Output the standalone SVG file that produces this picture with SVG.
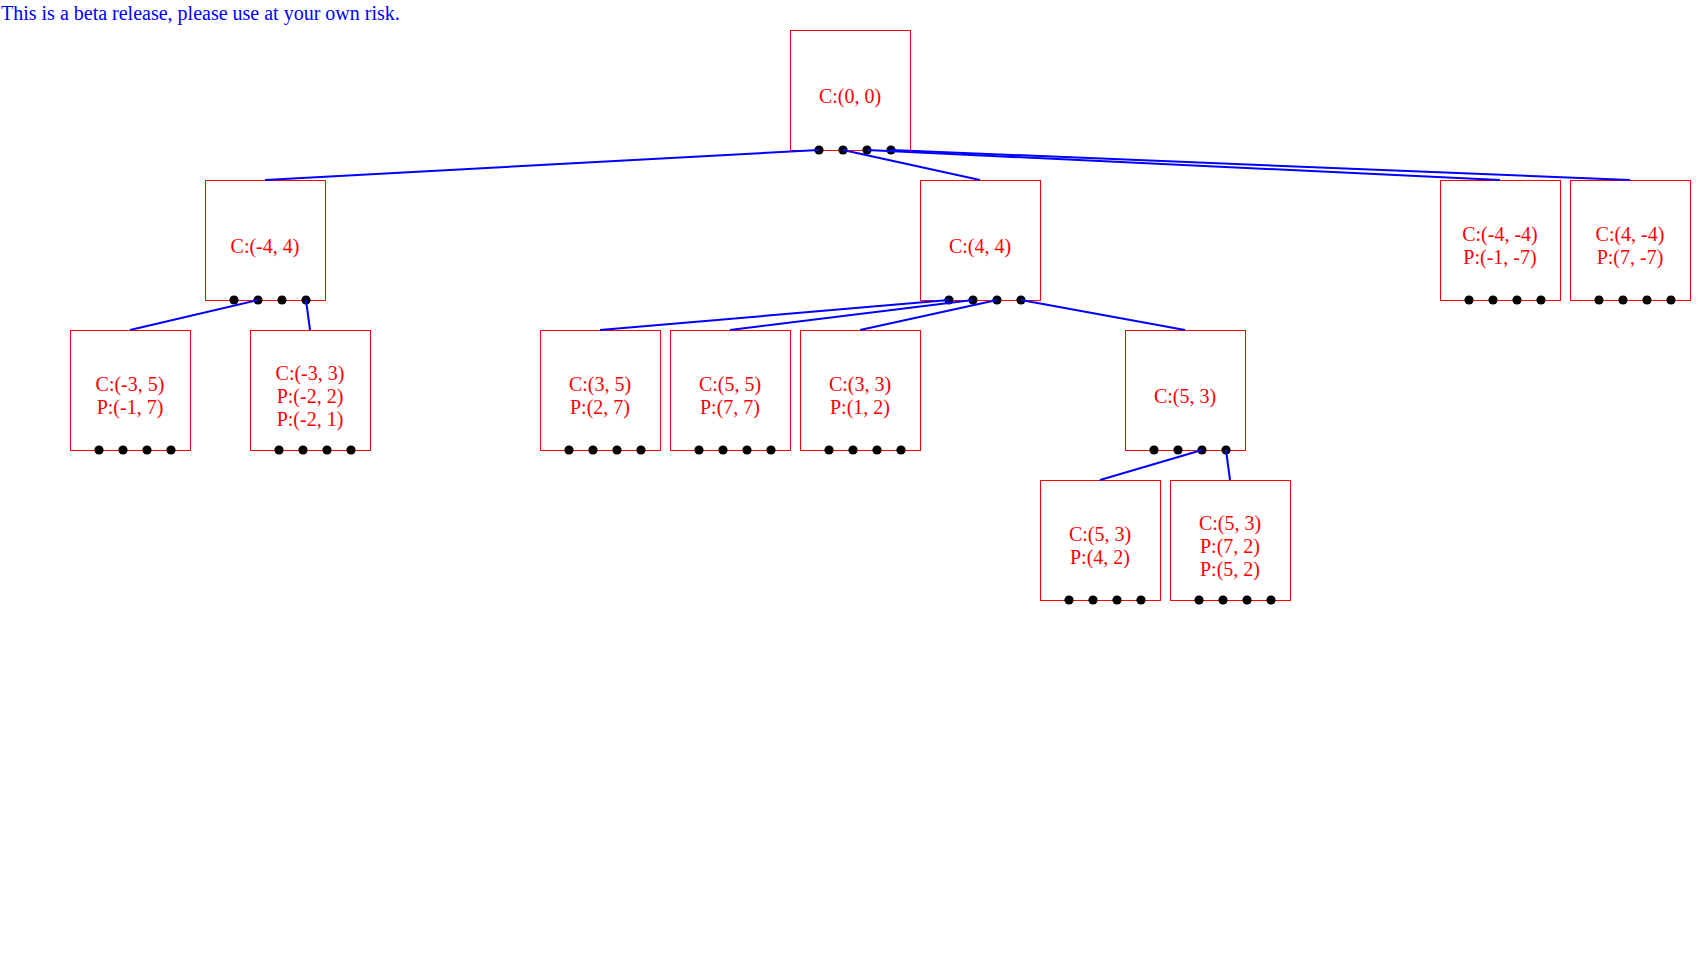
<svg xmlns="http://www.w3.org/2000/svg" width="1700" height="970" viewBox="0 0 1700 970">
<style>
.box{fill:none;stroke:#ff0000;stroke-width:1}
.lbl{font-family:"Liberation Serif","Times New Roman",serif;font-size:20px;fill:#ff0000;text-anchor:middle}
.dot{fill:#000000}
.edge{stroke:#0000ff;stroke-width:2;fill:none}
.title{font-family:"Liberation Serif","Times New Roman",serif;font-size:20px;fill:#0000ff}
</style>
<rect x="0" y="0" width="1700" height="970" fill="#ffffff"/>
<text class="title" x="1" y="20">This is a beta release, please use at your own risk.</text>
<g id="n-root">
<rect class="box" x="790.5" y="30.5" width="120" height="120"/>
<text class="lbl" x="850" y="103">C:(0, 0)</text>
<circle class="dot" cx="819" cy="150" r="4.6"/><circle class="dot" cx="843" cy="150" r="4.6"/><circle class="dot" cx="867" cy="150" r="4.6"/><circle class="dot" cx="891" cy="150" r="4.6"/>
</g>
<g id="n-m4-4">
<rect class="box" x="205.5" y="180.5" width="120" height="120"/>
<text class="lbl" x="265" y="253">C:(-4, 4)</text>
<circle class="dot" cx="234" cy="300" r="4.6"/><circle class="dot" cx="258" cy="300" r="4.6"/><circle class="dot" cx="282" cy="300" r="4.6"/><circle class="dot" cx="306" cy="300" r="4.6"/>
</g>
<g id="n-4-4">
<rect class="box" x="920.5" y="180.5" width="120" height="120"/>
<text class="lbl" x="980" y="253">C:(4, 4)</text>
<circle class="dot" cx="949" cy="300" r="4.6"/><circle class="dot" cx="973" cy="300" r="4.6"/><circle class="dot" cx="997" cy="300" r="4.6"/><circle class="dot" cx="1021" cy="300" r="4.6"/>
</g>
<g id="n-m4-m4">
<rect class="box" x="1440.5" y="180.5" width="120" height="120"/>
<text class="lbl" x="1500" y="240.5">C:(-4, -4)</text>
<text class="lbl" x="1500" y="263.5">P:(-1, -7)</text>
<circle class="dot" cx="1469" cy="300" r="4.6"/><circle class="dot" cx="1493" cy="300" r="4.6"/><circle class="dot" cx="1517" cy="300" r="4.6"/><circle class="dot" cx="1541" cy="300" r="4.6"/>
</g>
<g id="n-4-m4">
<rect class="box" x="1570.5" y="180.5" width="120" height="120"/>
<text class="lbl" x="1630" y="240.5">C:(4, -4)</text>
<text class="lbl" x="1630" y="263.5">P:(7, -7)</text>
<circle class="dot" cx="1599" cy="300" r="4.6"/><circle class="dot" cx="1623" cy="300" r="4.6"/><circle class="dot" cx="1647" cy="300" r="4.6"/><circle class="dot" cx="1671" cy="300" r="4.6"/>
</g>
<g id="n-m3-5">
<rect class="box" x="70.5" y="330.5" width="120" height="120"/>
<text class="lbl" x="130" y="390.5">C:(-3, 5)</text>
<text class="lbl" x="130" y="413.5">P:(-1, 7)</text>
<circle class="dot" cx="99" cy="450" r="4.6"/><circle class="dot" cx="123" cy="450" r="4.6"/><circle class="dot" cx="147" cy="450" r="4.6"/><circle class="dot" cx="171" cy="450" r="4.6"/>
</g>
<g id="n-m3-3">
<rect class="box" x="250.5" y="330.5" width="120" height="120"/>
<text class="lbl" x="310" y="380">C:(-3, 3)</text>
<text class="lbl" x="310" y="403">P:(-2, 2)</text>
<text class="lbl" x="310" y="426">P:(-2, 1)</text>
<circle class="dot" cx="279" cy="450" r="4.6"/><circle class="dot" cx="303" cy="450" r="4.6"/><circle class="dot" cx="327" cy="450" r="4.6"/><circle class="dot" cx="351" cy="450" r="4.6"/>
</g>
<g id="n-3-5">
<rect class="box" x="540.5" y="330.5" width="120" height="120"/>
<text class="lbl" x="600" y="390.5">C:(3, 5)</text>
<text class="lbl" x="600" y="413.5">P:(2, 7)</text>
<circle class="dot" cx="569" cy="450" r="4.6"/><circle class="dot" cx="593" cy="450" r="4.6"/><circle class="dot" cx="617" cy="450" r="4.6"/><circle class="dot" cx="641" cy="450" r="4.6"/>
</g>
<g id="n-5-5">
<rect class="box" x="670.5" y="330.5" width="120" height="120"/>
<text class="lbl" x="730" y="390.5">C:(5, 5)</text>
<text class="lbl" x="730" y="413.5">P:(7, 7)</text>
<circle class="dot" cx="699" cy="450" r="4.6"/><circle class="dot" cx="723" cy="450" r="4.6"/><circle class="dot" cx="747" cy="450" r="4.6"/><circle class="dot" cx="771" cy="450" r="4.6"/>
</g>
<g id="n-3-3">
<rect class="box" x="800.5" y="330.5" width="120" height="120"/>
<text class="lbl" x="860" y="390.5">C:(3, 3)</text>
<text class="lbl" x="860" y="413.5">P:(1, 2)</text>
<circle class="dot" cx="829" cy="450" r="4.6"/><circle class="dot" cx="853" cy="450" r="4.6"/><circle class="dot" cx="877" cy="450" r="4.6"/><circle class="dot" cx="901" cy="450" r="4.6"/>
</g>
<g id="n-5-3">
<rect class="box" x="1125.5" y="330.5" width="120" height="120"/>
<text class="lbl" x="1185" y="403">C:(5, 3)</text>
<circle class="dot" cx="1154" cy="450" r="4.6"/><circle class="dot" cx="1178" cy="450" r="4.6"/><circle class="dot" cx="1202" cy="450" r="4.6"/><circle class="dot" cx="1226" cy="450" r="4.6"/>
</g>
<g id="n-5-3-a">
<rect class="box" x="1040.5" y="480.5" width="120" height="120"/>
<text class="lbl" x="1100" y="540.5">C:(5, 3)</text>
<text class="lbl" x="1100" y="563.5">P:(4, 2)</text>
<circle class="dot" cx="1069" cy="600" r="4.6"/><circle class="dot" cx="1093" cy="600" r="4.6"/><circle class="dot" cx="1117" cy="600" r="4.6"/><circle class="dot" cx="1141" cy="600" r="4.6"/>
</g>
<g id="n-5-3-b">
<rect class="box" x="1170.5" y="480.5" width="120" height="120"/>
<text class="lbl" x="1230" y="530">C:(5, 3)</text>
<text class="lbl" x="1230" y="553">P:(7, 2)</text>
<text class="lbl" x="1230" y="576">P:(5, 2)</text>
<circle class="dot" cx="1199" cy="600" r="4.6"/><circle class="dot" cx="1223" cy="600" r="4.6"/><circle class="dot" cx="1247" cy="600" r="4.6"/><circle class="dot" cx="1271" cy="600" r="4.6"/>
</g>
<g id="connectors">
<line class="edge" x1="819" y1="150" x2="265" y2="180"/>
<line class="edge" x1="843" y1="150" x2="980" y2="180"/>
<line class="edge" x1="867" y1="150" x2="1500" y2="180"/>
<line class="edge" x1="891" y1="150" x2="1630" y2="180"/>
<line class="edge" x1="258" y1="300" x2="130" y2="330"/>
<line class="edge" x1="306" y1="300" x2="310" y2="330"/>
<line class="edge" x1="949" y1="300" x2="600" y2="330"/>
<line class="edge" x1="973" y1="300" x2="730" y2="330"/>
<line class="edge" x1="997" y1="300" x2="860" y2="330"/>
<line class="edge" x1="1021" y1="300" x2="1185" y2="330"/>
<line class="edge" x1="1202" y1="450" x2="1100" y2="480"/>
<line class="edge" x1="1226" y1="450" x2="1230" y2="480"/>
</g>
</svg>
